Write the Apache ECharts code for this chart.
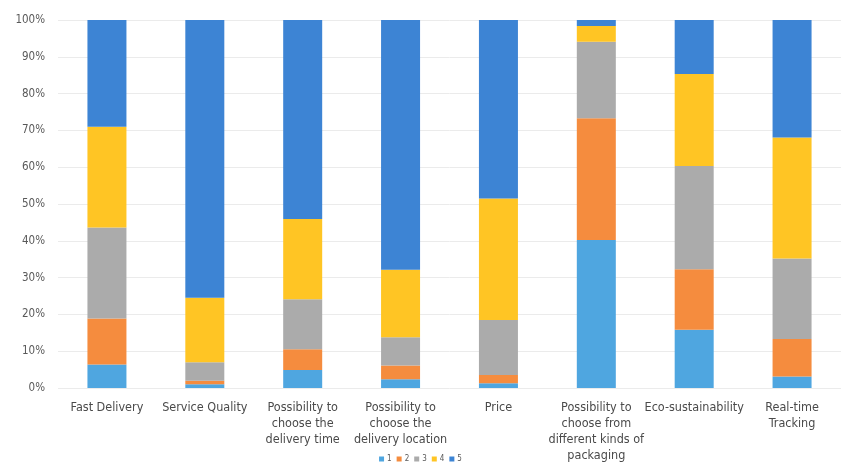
<!DOCTYPE html>
<html>
<head>
<meta charset="utf-8">
<script src="https://cdn.jsdelivr.net/npm/echarts@6/dist/echarts.min.js"></script>
<style>
  html, body { margin: 0; padding: 0; background: #fff; }
  #chart { width: 841px; height: 468px; }
</style>
</head>
<body>
<div id="chart"></div>
<script>
// survey categories (x axis)
const categories = [
  'Fast Delivery',
  'Service Quality',
  'Possibility to\nchoose the\ndelivery time',
  'Possibility to\nchoose the\ndelivery location',
  'Price',
  'Possibility to\nchoose from\ndifferent kinds of\npackaging',
  'Eco-sustainability',
  'Real-time\nTracking'
]

// share of answers per rating, in percent
const rating1 = [6.4, 1.0, 4.9, 2.4, 1.3, 40.2, 15.8, 3.1]
const rating2 = [12.5, 1.0, 5.6, 3.7, 2.2, 33.1, 16.5, 10.2]
const rating3 = [24.7, 5.0, 13.6, 7.7, 15.0, 20.8, 28.0, 21.9]
const rating4 = [27.4, 17.5, 21.8, 18.3, 33.0, 4.3, 25.0, 32.9]
const rating5 = [29.0, 75.5, 54.1, 67.9, 48.5, 1.6, 14.7, 31.9]

const ratingNames = ['1', '2', '3', '4', '5']
const yTicks = [0, 10, 20, 30, 40, 50, 60, 70, 80, 90, 100]

const colors = ['#4fa6e0', '#f58c3e', '#ababab', '#ffc524', '#3d84d4']
const FONT = "'DejaVu Sans Condensed', 'Liberation Sans', sans-serif"

const allRatings = [rating1, rating2, rating3, rating4, rating5]
const series = allRatings.map((vals, i) => ({
  name: ratingNames[i],
  type: 'bar',
  stack: 'total',
  barWidth: 39,
  data: vals,
  itemStyle: { color: colors[i] }
}))

const chart = echarts.init(document.getElementById('chart'))
chart.setOption({
  animation: false,
  textStyle: { fontFamily: FONT },
  grid: {
    left: 58,
    right: -11,
    top: 20,
    bottom: 80
  },
  legend: {
    bottom: 0,
    left: 'center',
    itemWidth: 5,
    itemHeight: 5,
    itemGap: 5,
    icon: 'rect',
    textStyle: { fontSize: 8, color: '#595959', fontFamily: FONT, padding: [0, 0, 0, -2] },
    data: ratingNames
  },
  xAxis: {
    type: 'category',
    data: categories,
    axisLine: { show: false },
    axisTick: { show: false },
    axisLabel: {
      color: '#4a4a4a',
      fontSize: 12.5,
      lineHeight: 16,
      margin: 12,
      interval: 0,
      fontFamily: FONT
    }
  },
  yAxis: {
    type: 'value',
    min: yTicks[0],
    max: yTicks[yTicks.length - 1],
    interval: 10,
    axisLine: { show: false },
    axisTick: { show: false },
    splitLine: { lineStyle: { color: '#ebebeb', width: 1 } },
    axisLabel: {
      color: '#595959',
      fontSize: 11.5,
      margin: 13,
      fontFamily: FONT,
      formatter: v => v + '%'
    }
  },
  series: series
})
</script>
</body>
</html>
